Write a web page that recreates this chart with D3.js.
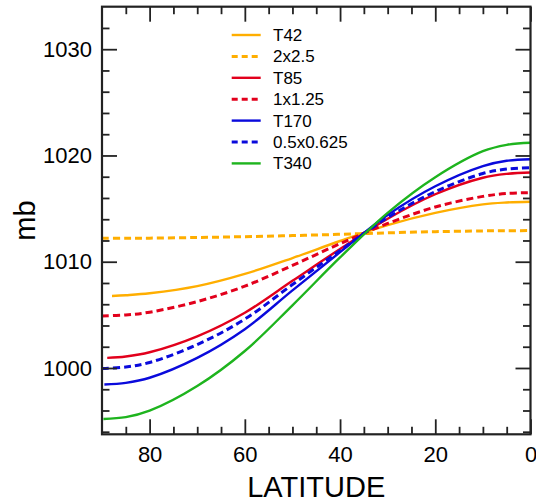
<!DOCTYPE html>
<html>
<head>
<meta charset="utf-8">
<script src="https://cdn.jsdelivr.net/npm/d3@7"></script>
<style>
  html, body { margin: 0; padding: 0; background: #fff; }
  svg { display: block; }
  text { font-family: "Liberation Sans", Arial, Helvetica, sans-serif; fill: #000; }
</style>
</head>
<body>
<svg id="chart" width="536" height="504"></svg>
<script>
// ---- data ----
const latitudes = [90, 85, 80, 70, 60, 50, 40, 30, 20, 10, 5, 0];
const seriesNames = ["T42", "2x2.5", "T85", "1x1.25", "T170", "0.5x0.625", "T340"];
const seriesColors = ["#FFAE00", "#FFAE00", "#E2001C", "#E2001C", "#0A0ADC", "#0A0ADC", "#1EB41E"];
const seriesDashed = [false, true, false, true, false, true, false];
const firstLat = [87.9, 90, 88.9, 90, 89.5, 90, 89.7];
const valsT42   = [1006.78, 1006.85, 1007.03, 1007.7, 1008.85, 1010.35, 1011.95, 1013.45, 1014.6, 1015.4, 1015.58, 1015.65];
const vals2x25  = [1012.2, 1012.21, 1012.22, 1012.28, 1012.36, 1012.46, 1012.58, 1012.72, 1012.83, 1012.9, 1012.92, 1012.93];
const valsT85   = [1000.95, 1001.08, 1001.48, 1002.98, 1005.2, 1008.2, 1011.2, 1014.05, 1016.35, 1017.9, 1018.27, 1018.4];
const vals1x125 = [1004.9, 1004.99, 1005.25, 1006.25, 1007.7, 1009.65, 1011.7, 1013.6, 1015.15, 1016.15, 1016.42, 1016.5];
const valsT170  = [998.45, 998.6, 999.08, 1000.95, 1003.65, 1007.3, 1010.9, 1014.4, 1017.1, 1019.0, 1019.5, 1019.65];
const vals05    = [999.95, 1000.09, 1000.52, 1002.2, 1004.6, 1007.85, 1011.05, 1014.15, 1016.6, 1018.3, 1018.72, 1018.86];
const valsT340  = [995.2, 995.37, 995.98, 998.3, 1001.6, 1005.9, 1010.4, 1014.6, 1017.95, 1020.4, 1021.0, 1021.2];
const allValues = [valsT42, vals2x25, valsT85, vals1x125, valsT170, vals05, valsT340];
const xTickValues = [80, 60, 40, 20, 0];
const xMinorValues = [85, 75, 70, 65, 55, 50, 45, 35, 30, 25, 15, 10, 5];
const yTickValues = [1000, 1010, 1020, 1030];
const yMinorValues = [994, 996, 998, 1002, 1004, 1006, 1008, 1012, 1014, 1016, 1018, 1022, 1024, 1026, 1028, 1032];
const xLabel = "LATITUDE";
const yLabel = "mb";

// ---- layout ----
const pL = 102, pR = 530.5, pT = 6.7, pB = 434.3;
const svg = d3.select("#chart");

const x = d3.scaleLinear().domain([90, 0]).range([pL, pR]);
const y = d3.scaleLinear().domain([993.76, 1034]).range([pB, pT]);

// lines
const line = d3.line()
  .x(d => x(d[0]))
  .y(d => y(d[1]))
  .curve(d3.curveCatmullRom.alpha(0.5));

svg.append("clipPath").attr("id", "plotclip")
  .append("rect").attr("x", pL).attr("y", pT).attr("width", pR - pL).attr("height", pB - pT);

const gLines = svg.append("g").attr("clip-path", "url(#plotclip)");
seriesNames.forEach((name, i) => {
  const pts = latitudes.map((lat, j) => [j === 0 ? firstLat[i] : lat, allValues[i][j]]);
  gLines.append("path")
    .datum(pts)
    .attr("d", line)
    .attr("fill", "none")
    .attr("stroke", seriesColors[i])
    .attr("stroke-width", seriesDashed[i] ? 3 : 2.4)
    .attr("stroke-dasharray", seriesDashed[i] ? "7,4" : null);
});

// axes
function styleAxis(g, showText) {
  g.select(".domain").remove();
  g.selectAll(".tick line").attr("stroke", "#222").attr("stroke-width", 1.8);
  if (!showText) g.selectAll(".tick text").remove();
  else g.selectAll(".tick text").attr("font-size", 22).attr("fill", "#111")
    .attr("font-family", "'Liberation Sans', Arial, Helvetica, sans-serif");
}
// major
svg.append("g").attr("transform", `translate(${pL},0)`)
  .call(d3.axisLeft(y).tickValues(yTickValues).tickSizeInner(-15).tickSizeOuter(0).tickPadding(10).tickFormat(d3.format("d")))
  .call(g => styleAxis(g, true));
svg.append("g").attr("transform", `translate(${pR},0)`)
  .call(d3.axisRight(y).tickValues(yTickValues).tickSizeInner(-15).tickSizeOuter(0))
  .call(g => styleAxis(g, false));
svg.append("g").attr("transform", `translate(0,${pB})`)
  .call(d3.axisBottom(x).tickValues(xTickValues).tickSizeInner(-15).tickSizeOuter(0).tickPadding(12).tickFormat(d3.format("d")))
  .call(g => styleAxis(g, true));
svg.append("g").attr("transform", `translate(0,${pT})`)
  .call(d3.axisTop(x).tickValues(xTickValues).tickSizeInner(-15).tickSizeOuter(0))
  .call(g => styleAxis(g, false));
// minor
svg.append("g").attr("transform", `translate(${pL},0)`)
  .call(d3.axisLeft(y).tickValues(yMinorValues).tickSizeInner(-7.5).tickSizeOuter(0))
  .call(g => styleAxis(g, false));
svg.append("g").attr("transform", `translate(${pR},0)`)
  .call(d3.axisRight(y).tickValues(yMinorValues).tickSizeInner(-7.5).tickSizeOuter(0))
  .call(g => styleAxis(g, false));
svg.append("g").attr("transform", `translate(0,${pB})`)
  .call(d3.axisBottom(x).tickValues(xMinorValues).tickSizeInner(-7.5).tickSizeOuter(0))
  .call(g => styleAxis(g, false));
svg.append("g").attr("transform", `translate(0,${pT})`)
  .call(d3.axisTop(x).tickValues(xMinorValues).tickSizeInner(-7.5).tickSizeOuter(0))
  .call(g => styleAxis(g, false));

// frame
svg.append("rect")
  .attr("x", pL).attr("y", pT).attr("width", pR - pL).attr("height", pB - pT)
  .attr("fill", "none").attr("stroke", "#222").attr("stroke-width", 2.2);

// axis titles
svg.append("text")
  .attr("x", (pL + pR) / 2).attr("y", 497.3)
  .attr("text-anchor", "middle").attr("font-size", 29).attr("fill", "#111")
  .text(xLabel);
svg.append("text")
  .attr("transform", `translate(35,${(pT + pB) / 2}) rotate(-90)`)
  .attr("text-anchor", "middle").attr("font-size", 29).attr("fill", "#111")
  .text(yLabel);

// legend
const legend = svg.append("g");
seriesNames.forEach((name, i) => {
  const ly = 35 + i * 21.4;
  legend.append("line")
    .attr("x1", 231.7).attr("x2", 260.7).attr("y1", ly).attr("y2", ly)
    .attr("stroke", seriesColors[i])
    .attr("stroke-width", seriesDashed[i] ? 3 : 2.4)
    .attr("stroke-dasharray", seriesDashed[i] ? "6,4" : null);
  legend.append("text")
    .attr("x", 273).attr("y", ly).attr("dy", "0.35em")
    .attr("font-size", 17).attr("fill", "#222")
    .text(name);
});
</script>
</body>
</html>
